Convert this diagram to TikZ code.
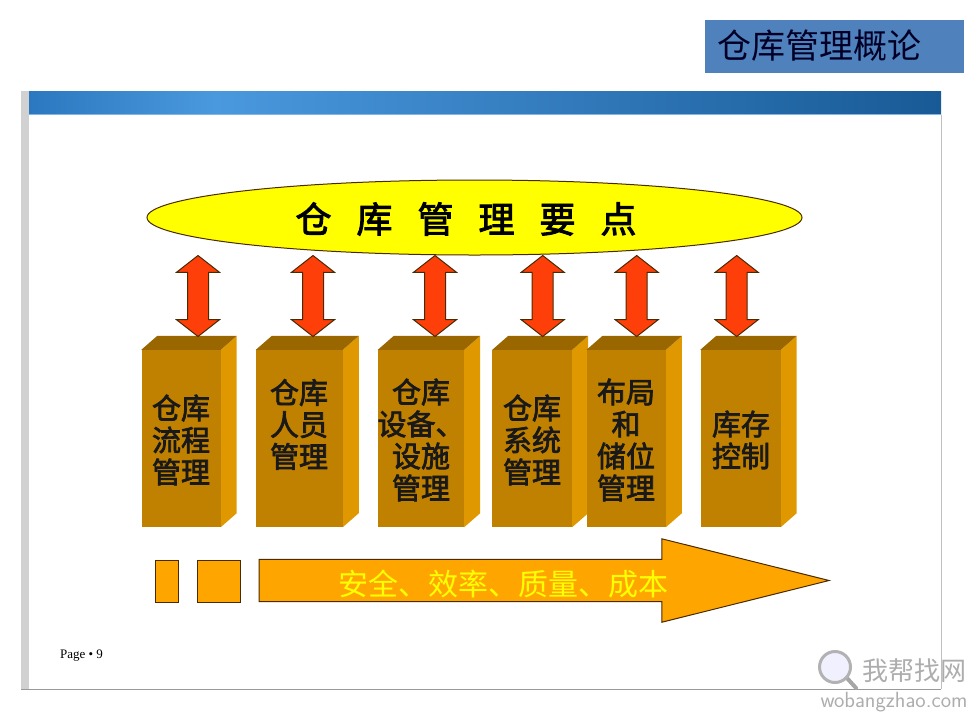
\documentclass[tikz,border=0pt]{standalone}
\usepackage{fontspec}
\setmainfont{Liberation Serif}
\newfontfamily\cjk{Noto Sans CJK SC}
\newfontfamily\cjkheavy[FakeBold=2.5]{Noto Sans CJK SC}
\usetikzlibrary{positioning, arrows.meta, shapes.geometric, shapes.arrows, backgrounds}
\definecolor{frontcol}{HTML}{C08000}
\definecolor{topcol}{HTML}{996600}
\definecolor{sidecol}{HTML}{E09800}
\definecolor{redcol}{HTML}{FF3F0A}
\definecolor{edgecol}{HTML}{4A2A00}
\definecolor{orangecol}{HTML}{FFA500}
\definecolor{titlecol}{HTML}{4F81BD}
\definecolor{puregold}{HTML}{FFFF00}
\definecolor{bandleft}{HTML}{2C78C0}
\definecolor{bandmid}{HTML}{4A98DE}
\definecolor{bandright}{HTML}{185A96}

\begin{document}
\begin{tikzpicture}[
    x=1pt, y=-1pt,
    front/.style={rectangle, fill=frontcol, minimum height=177pt, inner sep=0pt},
    boxtext/.style={font=\cjkheavy\fontsize{29}{32}\selectfont, align=center, text=black!90, inner sep=0pt},
    updown/.style={double arrow, draw=edgecol, fill=redcol, line width=1pt, rotate=90,
                   minimum height=81pt, minimum width=42pt, inner xsep=0pt, inner ysep=10pt,
                   double arrow head extend=11pt, double arrow tip angle=104},
    block/.style={rectangle, draw=edgecol, fill=orangecol, line width=1pt, minimum height=42pt, inner sep=0pt},
    mark text/.style={text=black!32, inner sep=0pt}
]
\useasboundingbox (0,0) rectangle (973,718);

% title
\node[fill=titlecol, minimum width=259pt, minimum height=52.5pt, inner sep=0pt] (title) at (834.5,46.4) {};
\node[font=\cjk\fontsize{34}{34}\selectfont, text=black!85!blue, inner sep=0pt] (titletext) at (819,46) {仓库管理概论};

% slide frame
\fill[black!18] (21,91) rectangle (29,689);
\shade[left color=bandleft, right color=bandmid] (29,91) rectangle (215,114);
\shade[left color=bandmid, right color=bandright] (215,91) rectangle (941,114);
\draw[bandmid!70, line width=1pt] (29,114.5) -- (941,114.5);
\draw[black!25] (941,115) -- (941,689);
\draw[black!40, line width=1pt] (21,689) -- (941,689);

% top ellipse
\node[ellipse, draw=edgecol, fill=puregold, line width=1pt, minimum width=655pt, minimum height=75pt, inner sep=0pt] (goal) at (474.5,217.5) {};
\node[font=\cjkheavy\fontsize{36}{36}\selectfont, inner sep=0pt] (goaltext) at (466,219)
    {仓\hspace{25pt}库\hspace{25pt}管\hspace{25pt}理\hspace{25pt}要\hspace{25pt}点};

% boxes
\node[front, minimum width=79pt] (b1) at (181,438.5) {};
\node[front, minimum width=86.5pt] (b2) at (299.3,438.5) {};
\node[front, minimum width=86pt] (b3) at (421,438.5) {};
\node[front, minimum width=79.5pt] (b4) at (532.2,438.5) {};
\node[front, minimum width=79pt] (b5) at (626.2,438.5) {};
\node[front, minimum width=80pt] (b6) at (740.5,438.5) {};

\begin{scope}[on background layer]
  \foreach \b in {b1,b2,b3,b4,b5,b6} {
    \fill[sidecol] (\b.north east) -- ([shift={(16,-14)}]\b.north east)
        -- ([shift={(16,-14)}]\b.south east) -- (\b.south east) -- cycle;
    \fill[topcol] (\b.north west) -- ([shift={(16,-14)}]\b.north west)
        -- ([shift={(16,-14)}]\b.north east) -- (\b.north east) -- cycle;
  }
\end{scope}

\node[boxtext] (t1) at (181,440) {仓库\\流程\\管理};
\node[boxtext] (t2) at (299,424.5) {仓库\\人员\\管理};
\node[boxtext] (t3) at (421,440) {仓库\\设备、\\设施\\管理};
\node[boxtext] (t4) at (532,440) {仓库\\系统\\管理};
\node[boxtext] (t5) at (626,440) {布局\\和\\储位\\管理};
\node[boxtext] (t6) at (741,440) {库存\\控制};

% double arrows
\node[updown] (a1) at (198,296) {};
\node[updown] (a2) at (313,296) {};
\node[updown] (a3) at (435,296) {};
\node[updown] (a4) at (542.7,296) {};
\node[updown] (a5) at (636.7,296) {};
\node[updown] (a6) at (736.7,296) {};

% bottom arrow
\node[block, minimum width=22.7pt] (r1) at (166.7,581.3) {};
\node[block, minimum width=42.6pt] (r2) at (219,581.3) {};
\node[single arrow, draw=edgecol, fill=orangecol, line width=1pt, minimum height=570pt, minimum width=82pt,
      inner xsep=0pt, inner ysep=20.7pt, single arrow head extend=20.5pt, single arrow tip angle=28] (goon) at (501.6,580.5) {};
\node[font=\cjk\fontsize{30}{30}\selectfont, text=puregold, inner sep=0pt] (goontext) at (503,584) {安全、效率、质量、成本};

% page number
\node[font=\fontsize{13}{13}\selectfont, inner sep=0pt] (page) at (81.5,656) {Page • 9};

% site mark
\draw[black!35, line width=4pt, line cap=round] (846,677) -- (856,688);
\node[circle, draw=black!30, fill=blue!6, line width=3pt, minimum size=31pt, inner sep=0pt] (glass) at (835,667) {};
\node[mark text, font=\cjk\fontsize{26}{26}\selectfont] (marktext) at (914,671) {我帮找网};
\node[mark text, font=\fontsize{22}{22}\sffamily\selectfont] (markurl) at (894,702) {wobangzhao.com};
\end{tikzpicture}
\end{document}
